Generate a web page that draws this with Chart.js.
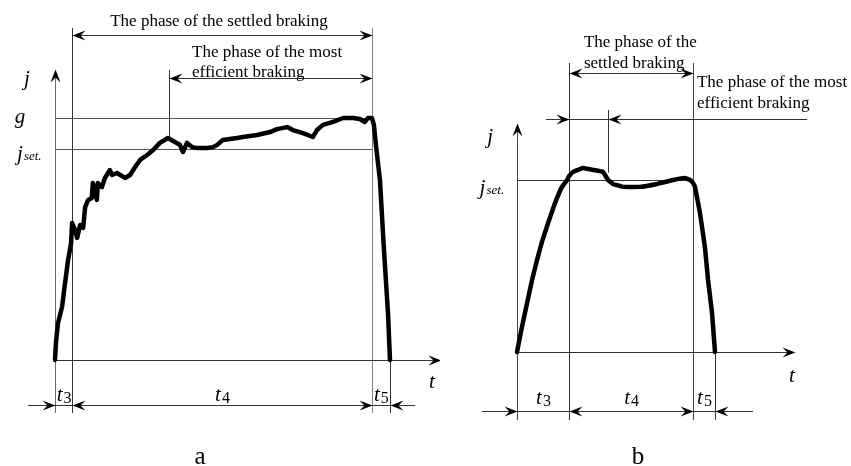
<!DOCTYPE html>
<html>
<head>
<meta charset="utf-8">
<script src="https://cdn.jsdelivr.net/npm/chart.js@4.4.1/dist/chart.umd.min.js"></script>
<style>
  html, body { margin: 0; padding: 0; background: #fff; }
  #wrap { position: relative; width: 851px; height: 466px; }
  #boxA { position: absolute; left: 0; top: 0; }
  #boxB { position: absolute; left: 440px; top: 0; }
</style>
</head>
<body>
<div id="wrap">
  <div id="boxA"><canvas id="chartA" width="440" height="466"></canvas></div>
  <div id="boxB"><canvas id="chartB" width="411" height="466"></canvas></div>
</div>
<script>
// ---- data: t in % of braking time, j in m/s2 ----
const timeA = [0, 0.3, 0.9, 2.1, 3.0, 3.9, 4.8, 5.1, 6.0, 6.6, 7.5, 8.4, 9.0, 9.9, 11.0, 11.3, 12.5, 12.8, 14.0, 14.9,
  16.4, 17.0, 18.5, 20.9, 22.4, 23.9, 25.4, 27.5, 29.3, 31.3, 33.7, 35.8, 37.3, 38.2, 39.4, 40.9, 42.4, 45.4, 47.2, 48.4,
  50.1, 54.3, 56.1, 60.3, 64.2, 66.3, 69.3, 71.0, 74.0, 77.0, 78.2, 80.0, 83.0, 86.0, 89.0, 91.0, 92.5, 93.4, 94.6, 95.2,
  95.8, 97.0, 98.2, 99.4, 100];
const decelA = [0, 0.73, 1.50, 2.15, 3.12, 4.05, 4.74, 5.55, 5.27, 4.95, 5.47, 5.35, 6.20, 6.49, 6.57, 7.17, 6.49, 7.17, 7.01, 7.38,
  7.70, 7.50, 7.58, 7.38, 7.50, 7.82, 8.11, 8.31, 8.51, 8.80, 9.00, 8.84, 8.72, 8.43, 8.80, 8.63, 8.59, 8.59, 8.63, 8.72,
  8.92, 9.00, 9.04, 9.12, 9.24, 9.36, 9.44, 9.32, 9.20, 9.04, 9.32, 9.53, 9.65, 9.81, 9.81, 9.77, 9.65, 9.81, 9.81, 9.53,
  8.72, 7.30, 4.46, 1.91, 0];

const timeB = [0, 2.5, 5.1, 7.6, 10.1, 12.6, 15.7, 19.2, 22.7, 25.3, 26.3, 28.3, 33.3, 38.4, 43.4, 46.0, 48.5, 53.5, 62.1, 70.7,
  78.8, 84.8, 87.4, 88.9, 89.9, 92.4, 94.9, 96.5, 98.5, 100];
const decelB = [0, 1.02, 1.99, 2.93, 3.74, 4.48, 5.25, 6.06, 6.72, 7.00, 7.16, 7.33, 7.49, 7.41, 7.33, 7.00, 6.84, 6.72, 6.72, 6.84,
  7.00, 7.08, 7.00, 6.88, 6.72, 5.66, 4.27, 2.93, 1.59, 0];

// phase boundaries: start, end of t3, end of t4, end of t5
const phasesA = [0, 5.1, 94.6, 100];
const phasesB = [0, 26.3, 88.9, 100];
const effStartA = 34.0;
const effStartB = 45.8;
const gLevel = 9.81;
const jSetA = 8.55;
const jSetB = 7.0;
const phaseLabels = ['3', '4', '5'];

const SERIF = '"Liberation Serif", "DejaVu Serif", serif';
const DARK = '#333';
const GREY = '#808080';

function hline(ctx, x1, x2, y, color) {
  ctx.strokeStyle = color;
  ctx.lineWidth = 1;
  ctx.beginPath();
  ctx.moveTo(x1, Math.round(y) + 0.5);
  ctx.lineTo(x2, Math.round(y) + 0.5);
  ctx.stroke();
}
function vline(ctx, x, y1, y2, color) {
  ctx.strokeStyle = color;
  ctx.lineWidth = 1;
  ctx.beginPath();
  ctx.moveTo(Math.round(x) + 0.5, y1);
  ctx.lineTo(Math.round(x) + 0.5, y2);
  ctx.stroke();
}
// barbed arrow head, (dx, dy) is the way the tip points
function head(ctx, x, y, dx, dy) {
  const L = 13, W = 5, N = 8;
  const nx = -dy, ny = dx;
  x = Math.round(x) + 0.5; y = Math.round(y) + 0.5;
  ctx.fillStyle = '#000';
  ctx.beginPath();
  ctx.moveTo(x, y);
  ctx.lineTo(x - dx * L + nx * W, y - dy * L + ny * W);
  ctx.lineTo(x - dx * N, y - dy * N);
  ctx.lineTo(x - dx * L - nx * W, y - dy * L - ny * W);
  ctx.closePath();
  ctx.fill();
}
function text(ctx, str, x, y, size, italic, align) {
  ctx.font = (italic ? 'italic ' : '') + size + 'px ' + SERIF;
  ctx.fillStyle = '#000';
  ctx.textAlign = align || 'left';
  ctx.textBaseline = 'alphabetic';
  ctx.fillText(str, x, y);
}
// symbol with subscript, e.g. t3 or j set.
function symbol(ctx, main, sub, x, y, align, subItalic) {
  ctx.font = 'italic 21px ' + SERIF;
  const w1 = ctx.measureText(main).width;
  ctx.font = (subItalic ? 'italic ' : '') + (subItalic ? 13 : 16) + 'px ' + SERIF;
  const w2 = ctx.measureText(sub).width;
  let left = x;
  if (align === 'center') left = x - (w1 + w2) / 2;
  if (align === 'right') left = x - (w1 + w2);
  text(ctx, main, left, y, 21, true);
  text(ctx, sub, left + w1 + 1, y + (subItalic ? 0 : 2), subItalic ? 13 : 16, subItalic);
}

const schemePlugin = {
  id: 'scheme',
  beforeDatasetsDraw(chart, args, o) {
    const ctx = chart.ctx;
    const X = v => chart.scales.x.getPixelForValue(v);
    const Y = v => chart.scales.y.getPixelForValue(v);
    const p = o.phases;
    ctx.save();
    // vertical guides
    vline(ctx, X(p[0]), Y(0), Y(o.guideBottom), o.axisColor);
    vline(ctx, X(p[1]), Y(o.guideTop), Y(o.guideBottom), DARK);
    vline(ctx, X(p[2]), Y(o.guideTop), Y(o.guideBottom), o.endColor);
    vline(ctx, X(p[3]), Y(0), Y(o.guideBottom), DARK);
    vline(ctx, X(o.effStart), Y(o.effTop), Y(o.effBottom), DARK);
    // level lines
    o.levels.forEach(l => hline(ctx, X(p[0]), X(p[2]), Y(l), o.levelColor));
    // axes
    vline(ctx, X(p[0]), Y(o.axisTop) + 4, Y(0), o.axisColor);
    head(ctx, X(p[0]), Y(o.axisTop), 0, -1);
    hline(ctx, X(p[0]), X(o.axisEnd) - 4, Y(0), DARK);
    head(ctx, X(o.axisEnd), Y(0), 1, 0);
    // settled braking arrow
    hline(ctx, X(p[1]), X(p[2]), Y(o.settledLevel), DARK);
    head(ctx, X(p[1]), Y(o.settledLevel), -1, 0);
    head(ctx, X(p[2]), Y(o.settledLevel), 1, 0);
    // most efficient braking arrow
    hline(ctx, X(o.effFrom), X(o.effTo), Y(o.effLevel), DARK);
    if (o.effInside) {
      head(ctx, X(p[1]), Y(o.effLevel), 1, 0);
      head(ctx, X(o.effStart), Y(o.effLevel), -1, 0);
    } else {
      head(ctx, X(o.effStart), Y(o.effLevel), -1, 0);
      head(ctx, X(p[2]), Y(o.effLevel), 1, 0);
    }
    // dimension line for t3, t4, t5
    hline(ctx, X(o.dimFrom), X(o.dimTo), Y(o.dimLevel), DARK);
    head(ctx, X(p[0]), Y(o.dimLevel), 1, 0);
    head(ctx, X(p[1]), Y(o.dimLevel), -1, 0);
    head(ctx, X(p[2]), Y(o.dimLevel), 1, 0);
    head(ctx, X(p[3]), Y(o.dimLevel), -1, 0);
    ctx.restore();
  },
  afterDatasetsDraw(chart, args, o) {
    const ctx = chart.ctx;
    const X = v => chart.scales.x.getPixelForValue(v);
    const Y = v => chart.scales.y.getPixelForValue(v);
    const p = o.phases;
    ctx.save();
    o.titles.forEach(tt => text(ctx, tt.text, X(tt.t), Y(tt.j), 17, false, tt.align));
    text(ctx, 'j', X(o.jLabel[0]), Y(o.jLabel[1]), 21, true, 'center');
    if (o.gLabel) text(ctx, 'g', X(o.gLabel[0]), Y(o.gLabel[1]), 21, true, 'center');
    symbol(ctx, 'j', 'set.', X(o.jSetLabel[0]), Y(o.jSetLabel[1]), 'right', true);
    text(ctx, 't', X(o.tLabel[0]), Y(o.tLabel[1]), 21, true, 'center');
    for (let i = 0; i < 3; i++) {
      symbol(ctx, 't', phaseLabels[i], (X(p[i]) + X(p[i + 1])) / 2, Y(o.phaseLabelLevel), 'center', false);
    }
    text(ctx, o.caption, X(o.captionAt[0]), Y(o.captionAt[1]), 25, false, 'center');
    ctx.restore();
  }
};

function makeChart(id, times, decels, range, scheme) {
  return new Chart(document.getElementById(id), {
    type: 'line',
    data: {
      datasets: [{
        data: times.map((t, i) => ({ x: t, y: decels[i] })),
        borderColor: '#000',
        borderWidth: 4.5,
        pointRadius: 0,
        tension: scheme.tension,
        borderJoinStyle: 'round',
        borderCapStyle: 'round',
      }],
    },
    options: {
      responsive: false,
      animation: false,
      layout: { padding: 0 },
      plugins: { legend: { display: false }, tooltip: { enabled: false }, scheme: scheme },
      scales: {
        x: { type: 'linear', display: false, min: range[0], max: range[1] },
        y: { type: 'linear', display: false, min: range[2], max: range[3] },
      },
    },
    plugins: [schemePlugin],
  });
}

makeChart('chartA', timeA, decelA, [-16.42, 114.93, -4.297, 14.593], {
  tension: 0,
  phases: phasesA, effStart: effStartA, levels: [gLevel, jSetA],
  axisColor: '#666', endColor: GREY, levelColor: '#555',
  guideTop: 13.46, guideBottom: -2.15, effTop: 11.76, effBottom: 9.0,
  axisTop: 11.8, axisEnd: 115.2,
  settledLevel: 13.17, effLevel: 11.43, effFrom: effStartA, effTo: phasesA[2], effInside: false,
  dimLevel: -1.84, dimFrom: -8.06, dimTo: 107.5,
  titles: [
    { text: 'The phase of the settled braking', t: 48.96, j: 13.54, align: 'center' },
    { text: 'The phase of the most', t: 40.9, j: 12.28, align: 'left' },
    { text: 'efficient braking', t: 40.9, j: 11.47, align: 'left' },
  ],
  jLabel: [-8.36, 11.15], gLabel: [-10.45, 9.61], jSetLabel: [-4.3, 8.11], tLabel: [112.5, -1.13],
  phaseLabelLevel: -1.68, caption: 'a', captionAt: [43.3, -4.22],
});

makeChart('chartB', timeB, decelB, [-38.89, 168.69, -4.64, 14.326], {
  tension: 0.05,
  phases: phasesB, effStart: effStartB, levels: [jSetB],
  axisColor: '#444', endColor: '#444', levelColor: '#333',
  guideTop: 11.76, guideBottom: -2.77, effTop: 9.85, effBottom: 7.3,
  axisTop: 9.32, axisEnd: 140.4,
  settledLevel: 11.36, effLevel: 9.48, effFrom: 14.6, effTo: 146.5, effInside: true,
  dimLevel: -2.39, dimFrom: -17.7, dimTo: 119.2,
  titles: [
    { text: 'The phase of the', t: 33.8, j: 12.41, align: 'left' },
    { text: 'settled braking', t: 33.8, j: 11.56, align: 'left' },
    { text: 'The phase of the most', t: 90.9, j: 10.79, align: 'left' },
    { text: 'efficient braking', t: 90.9, j: 9.93, align: 'left' },
  ],
  jLabel: [-13.6, 8.51], jSetLabel: [-7.0, 6.43], tLabel: [138.9, -1.22],
  phaseLabelLevel: -2.12, caption: 'b', captionAt: [61.1, -4.56],
});
</script>
</body>
</html>
